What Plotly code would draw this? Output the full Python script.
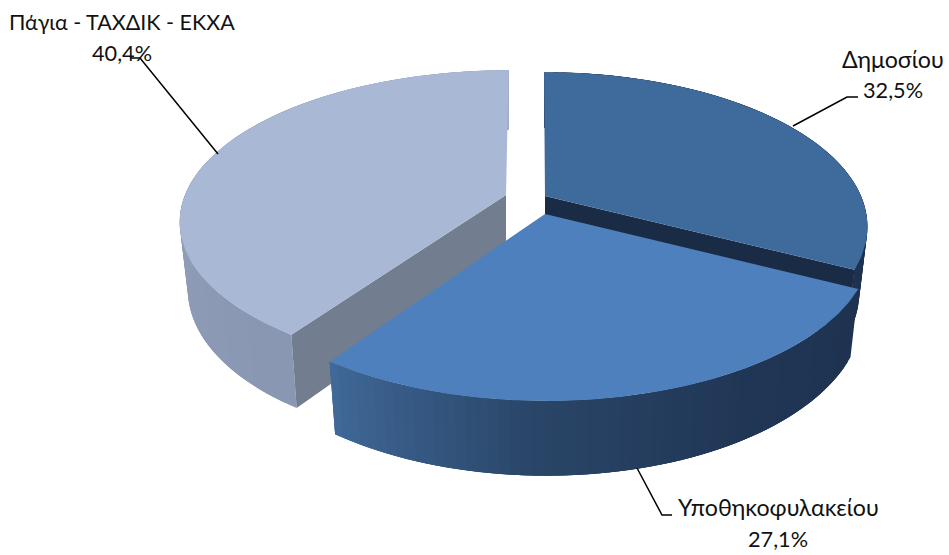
import numpy as np
import plotly.graph_objects as go

# chart data
labels = ["Δημοσίου", "Υποθηκοφυλακείου", "Πάγια - ΤΑΧΔΙΚ - ΕΚΧΑ"]
values = [32.5, 27.1, 40.4]
value_labels = ["32,5%", "27,1%", "40,4%"]

# fake 3d projection settings, one entry per slice (the explode shifts each one)
RX = [316, 320, 321]
RY = [148, 150.5, 146]
PERSP = [0.195, 0.195, 0.17]
THICK = [63, 64, 66]
BOTTOM = 0.975
apex = {0: (545, 196), 1: (545, 214), 2: (506, 195)}
skew = {0: 6, 1: 5, 2: -18}

top_col = ["#3f6a9c", "#4e80bd", "#a9b8d5"]
radial_col = ["#1a2c45", "#1a2c45", "#727e90"]
wall_col = [
    [(30, 50, 80), (30, 50, 80)],
    [(31, 51, 80), (33, 55, 86), (42, 70, 104), (64, 104, 152)],
    [(138, 151, 178), (155, 170, 198)],
]


def project(i, theta, bottom=False):
    X, Y = np.sin(theta), -np.cos(theta)
    w = 1 - PERSP[i] * Y
    ax, ay = apex[i]
    s = BOTTOM if bottom else 1
    x = ax + s * RX[i] * X / w + skew[i] * (1 / w - 1)
    y = ay + s * RY[i] * Y / w
    if bottom:
        y = y + THICK[i] / w
    return x, y


def apex_xy(i, bottom=False):
    ax, ay = apex[i]
    return (ax, ay + THICK[i]) if bottom else (ax, ay)


def poly(xs, ys, color):
    return go.Scatter(x=list(xs), y=list(ys), mode="lines", fill="toself", fillcolor=color,
                      line=dict(color=color, width=0), hoverinfo="skip", showlegend=False)


def wall_color(stops, f):
    pos = f * (len(stops) - 1)
    k = min(int(pos), len(stops) - 2)
    t = pos - k
    c = [stops[k][j] + (stops[k + 1][j] - stops[k][j]) * t for j in range(3)]
    return "rgb(%d,%d,%d)" % tuple(c)


# slice angles, clockwise from 12 o'clock
edges = np.cumsum([0] + values) / 100 * 2 * np.pi

fig = go.Figure()


def add_slice(i):
    t0, t1 = edges[i], edges[i + 1]
    # outer wall as strips so it can shade, each strip overlaps the next to hide seams
    n = 60
    th = np.linspace(t0, t1, n + 1)
    for k in range(n):
        seg = np.linspace(th[k], th[min(k + 3, n)], 5)
        xa, ya = project(i, seg)
        xb, yb = project(i, seg[::-1], True)
        fig.add_trace(poly(np.r_[xa, xb, xa[0]], np.r_[ya, yb, ya[0]],
                           wall_color(wall_col[i], k / (n - 1))))
    # radial wall that faces the viewer
    rad = t1 if i == 0 else t0
    x0, y0 = apex_xy(i)
    x1, y1 = project(i, rad)
    x2, y2 = project(i, rad, True)
    x3, y3 = apex_xy(i, True)
    if i != 1:
        fig.add_trace(poly([x0, x1, x2, x3, x0], [y0, y1, y2, y3, y0], radial_col[i]))
    # top face
    th = np.linspace(t0, t1, 200)
    xs, ys = project(i, th)
    fig.add_trace(poly(np.r_[apex[i][0], xs, apex[i][0]], np.r_[apex[i][1], ys, apex[i][1]], top_col[i]))


for i in [2, 0, 1]:
    add_slice(i)

# leader lines
leaders = [
    ([858, 847, 793], [97, 97, 126]),
    ([672, 662, 637], [515, 515, 468]),
    ([130, 140, 218], [58, 58, 154]),
]
for lx, ly in leaders:
    fig.add_trace(go.Scatter(x=lx, y=ly, mode="lines", line=dict(color="black", width=1.5),
                             hoverinfo="skip", showlegend=False))

name_pos = [(893, 59), (778, 507), (122, 22)]
val_pos = [(893, 90), (778, 539), (122, 53)]
name_size = [23.2, 23.2, 21.5]
for i in range(3):
    for txt, (px, py), sz in ((labels[i], name_pos[i], name_size[i]), (value_labels[i], val_pos[i], 21.7)):
        fig.add_annotation(x=px, y=py, text=txt, showarrow=False, xanchor="center", yanchor="middle",
                           font=dict(family="Lato, 'Noto Sans', sans-serif", size=sz, color="#111111"))

fig.update_layout(
    width=949, height=555, margin=dict(l=0, r=0, t=0, b=0),
    paper_bgcolor="white", plot_bgcolor="white", showlegend=False,
    xaxis=dict(range=[0, 949], visible=False, fixedrange=True),
    yaxis=dict(range=[555, 0], visible=False, fixedrange=True),
)

fig.write_html("out.html", config=dict(displayModeBar=False),
               post_script="document.body.style.margin='0';document.body.style.overflow='hidden';")
